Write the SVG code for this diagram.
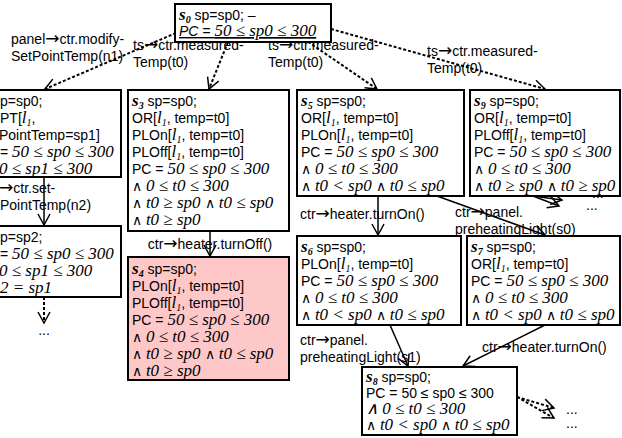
<svg xmlns="http://www.w3.org/2000/svg" width="622" height="438" viewBox="0 0 622 438">
<style>
.t{font-family:"Liberation Sans",Arial,sans-serif;font-size:14px;fill:#000}
.m{font-family:"Liberation Serif","Times New Roman",serif;font-style:italic;font-size:17px}
.h{font-family:"Liberation Serif","Times New Roman",serif;font-style:italic;font-weight:bold;font-size:17px}
.hs{font-family:"Liberation Serif","Times New Roman",serif;font-style:italic;font-weight:bold;font-size:10px}
.ms{font-family:"Liberation Serif","Times New Roman",serif;font-style:italic;font-size:10px}
.ar{font-family:"DejaVu Sans",sans-serif;font-size:17px}
.box{fill:#fff;stroke:#000;stroke-width:2}
.hot{fill:#ffc8c8}
.e{fill:none;stroke:#000;stroke-width:1.5;marker-end:url(#ah)}
.d{fill:none;stroke:#000;stroke-width:2;stroke-dasharray:3 2;marker-end:url(#ah)}
</style>
<defs>
<marker id="ah" markerUnits="userSpaceOnUse" markerWidth="16" markerHeight="16" refX="12" refY="7" orient="auto">
<path d="M1,1 L12,7 L1,13" fill="none" stroke="#000" stroke-width="1.5"/>
</marker>
</defs>
<g id="connectors">
<line class="d" x1="176" y1="33" x2="45" y2="89"/>
<line class="d" x1="228" y1="42" x2="209" y2="89"/>
<line class="d" x1="304" y1="39" x2="377" y2="89"/>
<line class="d" x1="331" y1="29" x2="545" y2="89"/>
<line class="e" x1="44" y1="177" x2="44" y2="225"/>
<line class="d" x1="44" y1="297" x2="44" y2="323"/>
<line class="e" x1="210" y1="231" x2="210" y2="256"/>
<line class="e" x1="378" y1="196" x2="378" y2="235"/>
<line class="e" x1="437" y1="196" x2="545" y2="235"/>
<line class="e" x1="533" y1="196" x2="562" y2="200"/>
<line class="e" x1="533" y1="196" x2="559" y2="206"/>
<line class="e" x1="390" y1="325" x2="408" y2="366"/>
<line class="e" x1="545" y1="325" x2="463" y2="366"/>
<line class="d" x1="517" y1="397" x2="554" y2="408"/>
<line class="d" x1="517" y1="397" x2="554" y2="418"/>
<text class="t" x="11" y="44">panel<tspan class="ar">→</tspan>ctr.modify-</text>
<text class="t" x="11" y="61">SetPointTemp(n1)</text>
<text class="t" x="133" y="50">ts<tspan class="ar">→</tspan>ctr.measured-</text>
<text class="t" x="133" y="67">Temp(t0)</text>
<text class="t" x="268" y="50">ts<tspan class="ar">→</tspan>ctr.measured-</text>
<text class="t" x="268" y="67">Temp(t0)</text>
<text class="t" x="427" y="56">ts<tspan class="ar">→</tspan>ctr.measured-</text>
<text class="t" x="427" y="73">Temp(t0)</text>
<text class="t" x="-1" y="193"><tspan class="ar">→</tspan>ctr.set-</text>
<text class="t" x="0" y="210">PointTemp(n2)</text>
<text class="t" x="44" y="335" text-anchor="middle">...</text>
<text class="t" x="210" y="249" text-anchor="middle">ctr<tspan class="ar">→</tspan>heater.turnOff()</text>
<text class="t" x="300" y="219">ctr<tspan class="ar">→</tspan>heater.turnOn()</text>
<text class="t" x="455" y="217">ctr<tspan class="ar">→</tspan>panel.</text>
<text class="t" x="455" y="234">preheatingLight(s0)</text>
<text class="t" x="592" y="198">...</text>
<text class="t" x="586" y="210">...</text>
<text class="t" x="300" y="345">ctr<tspan class="ar">→</tspan>panel.</text>
<text class="t" x="300" y="362">preheatingLight(s1)</text>
<text class="t" x="482" y="352">ctr<tspan class="ar">→</tspan>heater.turnOn()</text>
<text class="t" x="566" y="414">...</text>
<text class="t" x="566" y="428">...</text>
</g>
<g id="s0">
<rect class="box" x="175" y="4" width="156" height="38"/>
<text class="t" x="179" y="20"><tspan class="h">s</tspan><tspan class="hs" dy="3">0</tspan><tspan dy="-3"> sp=sp0; –</tspan></text>
<text class="t" x="179" y="36" text-decoration="underline"><tspan font-style="italic">PC = </tspan><tspan class="m">50 ≤ sp0 ≤ 300</tspan></text>
</g>
<g id="s1">
<rect class="box" x="-10" y="90" width="131" height="87"/>
<text class="t" x="0" y="106">p=sp0;</text>
<text class="t" x="0" y="123">PT[<tspan class="m">l</tspan><tspan class="ms" dy="3">1</tspan><tspan dy="-3">,</tspan></text>
<text class="t" x="-1" y="140">PointTemp=sp1]</text>
<text class="t" x="0" y="157">= <tspan class="m">50 ≤ sp0 ≤ 300</tspan></text>
<text class="m" x="-1" y="174">0 ≤ sp1 ≤ 300</text>
</g>
<g id="s2">
<rect class="box" x="-10" y="226" width="131" height="71"/>
<text class="t" x="0" y="242">p=sp2;</text>
<text class="t" x="0" y="259">= <tspan class="m">50 ≤ sp0 ≤ 300</tspan></text>
<text class="m" x="-1" y="276">0 ≤ sp1 ≤ 300</text>
<text class="m" x="0" y="293">2 = sp1</text>
</g>
<g id="s3">
<rect class="box" x="128" y="90" width="161" height="141"/>
<text class="t" x="132" y="106"><tspan class="h">s</tspan><tspan class="hs" dy="3">3</tspan><tspan dy="-3"> sp=sp0;</tspan></text>
<text class="t" x="132" y="123">OR[<tspan class="m">l</tspan><tspan class="ms" dy="3">1</tspan><tspan dy="-3">, temp=t0]</tspan></text>
<text class="t" x="132" y="140">PLOn[<tspan class="m">l</tspan><tspan class="ms" dy="3">1</tspan><tspan dy="-3">, temp=t0]</tspan></text>
<text class="t" x="132" y="157">PLOff[<tspan class="m">l</tspan><tspan class="ms" dy="3">1</tspan><tspan dy="-3">, temp=t0]</tspan></text>
<text class="t" x="132" y="174">PC = <tspan class="m">50 ≤ sp0 ≤ 300</tspan></text>
<text class="t" x="132" y="191"> ∧ <tspan class="m">0 ≤ t0 ≤ 300</tspan></text>
<text class="t" x="132" y="208"> ∧ <tspan class="m">t0 ≥ sp0 </tspan>∧ <tspan class="m">t0 ≤ sp0</tspan></text>
<text class="t" x="132" y="225"> ∧ <tspan class="m">t0 ≥ sp0</tspan></text>
</g>
<g id="s4">
<rect class="box hot" x="128" y="257" width="161" height="123"/>
<text class="t" x="132" y="274"><tspan class="h">s</tspan><tspan class="hs" dy="3">4</tspan><tspan dy="-3"> sp=sp0;</tspan></text>
<text class="t" x="132" y="291">PLOn[<tspan class="m">l</tspan><tspan class="ms" dy="3">1</tspan><tspan dy="-3">, temp=t0]</tspan></text>
<text class="t" x="132" y="308">PLOff[<tspan class="m">l</tspan><tspan class="ms" dy="3">1</tspan><tspan dy="-3">, temp=t0]</tspan></text>
<text class="t" x="132" y="325">PC = <tspan class="m">50 ≤ sp0 ≤ 300</tspan></text>
<text class="t" x="132" y="342"> ∧ <tspan class="m">0 ≤ t0 ≤ 300</tspan></text>
<text class="t" x="132" y="359"> ∧ <tspan class="m">t0 ≥ sp0 </tspan>∧ <tspan class="m">t0 ≤ sp0</tspan></text>
<text class="t" x="132" y="376"> ∧ <tspan class="m">t0 ≥ sp0</tspan></text>
</g>
<g id="s5">
<rect class="box" x="297" y="90" width="167" height="106"/>
<text class="t" x="301" y="106"><tspan class="h">s</tspan><tspan class="hs" dy="3">5</tspan><tspan dy="-3"> sp=sp0;</tspan></text>
<text class="t" x="301" y="123">OR[<tspan class="m">l</tspan><tspan class="ms" dy="3">1</tspan><tspan dy="-3">, temp=t0]</tspan></text>
<text class="t" x="301" y="140">PLOn[<tspan class="m">l</tspan><tspan class="ms" dy="3">1</tspan><tspan dy="-3">, temp=t0]</tspan></text>
<text class="t" x="301" y="157">PC = <tspan class="m">50 ≤ sp0 ≤ 300</tspan></text>
<text class="t" x="301" y="174"> ∧ <tspan class="m">0 ≤ t0 ≤ 300</tspan></text>
<text class="t" x="301" y="191"> ∧ <tspan class="m">t0 &lt; sp0 </tspan>∧ <tspan class="m">t0 ≤ sp0</tspan></text>
</g>
<g id="s9">
<rect class="box" x="470" y="90" width="150" height="106"/>
<text class="t" x="474" y="106"><tspan class="h">s</tspan><tspan class="hs" dy="3">9</tspan><tspan dy="-3"> sp=sp0;</tspan></text>
<text class="t" x="474" y="123">OR[<tspan class="m">l</tspan><tspan class="ms" dy="3">1</tspan><tspan dy="-3">, temp=t0]</tspan></text>
<text class="t" x="474" y="140">PLOff[<tspan class="m">l</tspan><tspan class="ms" dy="3">1</tspan><tspan dy="-3">, temp=t0]</tspan></text>
<text class="t" x="474" y="157">PC = <tspan class="m">50 ≤ sp0 ≤ 300</tspan></text>
<text class="t" x="474" y="174"> ∧ <tspan class="m">0 ≤ t0 ≤ 300</tspan></text>
<text class="t" x="474" y="191"> ∧ <tspan class="m">t0 ≥ sp0 </tspan>∧ <tspan class="m">t0 ≥ sp0</tspan></text>
</g>
<g id="s6">
<rect class="box" x="297" y="236" width="164" height="89"/>
<text class="t" x="301" y="252"><tspan class="h">s</tspan><tspan class="hs" dy="3">6</tspan><tspan dy="-3"> sp=sp0;</tspan></text>
<text class="t" x="301" y="269">PLOn[<tspan class="m">l</tspan><tspan class="ms" dy="3">1</tspan><tspan dy="-3">, temp=t0]</tspan></text>
<text class="t" x="301" y="286">PC = <tspan class="m">50 ≤ sp0 ≤ 300</tspan></text>
<text class="t" x="301" y="303"> ∧ <tspan class="m">0 ≤ t0 ≤ 300</tspan></text>
<text class="t" x="301" y="320"> ∧ <tspan class="m">t0 &lt; sp0 </tspan>∧ <tspan class="m">t0 ≤ sp0</tspan></text>
</g>
<g id="s7">
<rect class="box" x="467" y="236" width="153" height="89"/>
<text class="t" x="471" y="252"><tspan class="h">s</tspan><tspan class="hs" dy="3">7</tspan><tspan dy="-3"> sp=sp0;</tspan></text>
<text class="t" x="471" y="269">OR[<tspan class="m">l</tspan><tspan class="ms" dy="3">1</tspan><tspan dy="-3">, temp=t0]</tspan></text>
<text class="t" x="471" y="286">PC = <tspan class="m">50 ≤ sp0 ≤ 300</tspan></text>
<text class="t" x="471" y="303"> ∧ <tspan class="m">0 ≤ t0 ≤ 300</tspan></text>
<text class="t" x="471" y="320"> ∧ <tspan class="m">t0 &lt; sp0 </tspan>∧ <tspan class="m">t0 ≤ sp0</tspan></text>
</g>
<g id="s8">
<rect class="box" x="362" y="367" width="155" height="68"/>
<text class="t" x="366" y="382"><tspan class="h">s</tspan><tspan class="hs" dy="3">8</tspan><tspan dy="-3"> sp=sp0;</tspan></text>
<text class="t" x="366" y="398">PC = 50 ≤ sp0 ≤ 300</text>
<text class="m" x="366" y="414"> ∧ 0 ≤ t0 ≤ 300</text>
<text class="t" x="366" y="430"> ∧ <tspan class="m">t0 &lt; sp0 </tspan>∧ <tspan class="m">t0 ≤ sp0</tspan></text>
</g>
</svg>
